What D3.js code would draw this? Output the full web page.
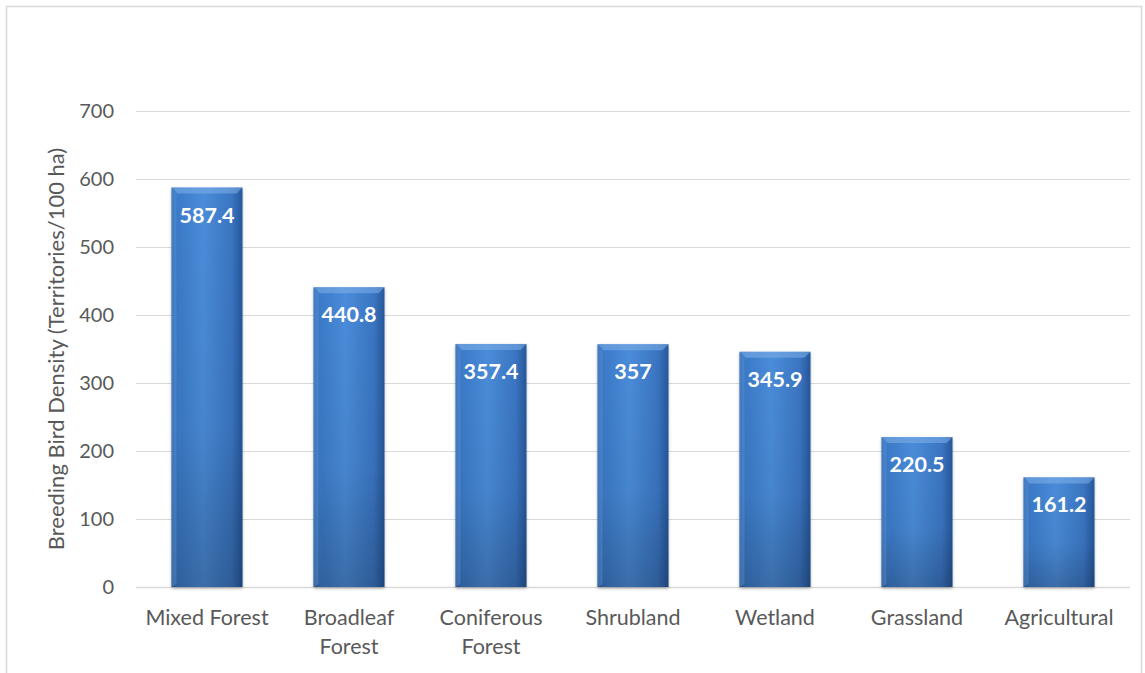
<!DOCTYPE html>
<html><head><meta charset="utf-8">
<script src="https://cdn.jsdelivr.net/npm/d3@7"></script>
<style>html,body{margin:0;padding:0;background:#fff;}svg{display:block;font-family:Lato,"Open Sans",sans-serif;}</style>
</head><body>
<svg id="c" width="1145" height="673"></svg>
<script>
const categories = ["Mixed Forest","Broadleaf Forest","Coniferous Forest","Shrubland","Wetland","Grassland","Agricultural"];
const categoryLines = [["Mixed Forest"],["Broadleaf","Forest"],["Coniferous","Forest"],["Shrubland"],["Wetland"],["Grassland"],["Agricultural"]];
const values = [587.4,440.8,357.4,357,345.9,220.5,161.2];
const valueLabels = ["587.4","440.8","357.4","357","345.9","220.5","161.2"];
const yTicks = [0,100,200,300,400,500,600,700];
const yTitle = "Breeding Bird Density (Territories/100 ha)";

const svg = d3.select("#c");
const m = {left:136, right:1130, top:111, bottom:587};
const x = d3.scaleBand().domain(categories).range([m.left, m.right]).paddingInner(0.5).paddingOuter(0.25);
const y = d3.scaleLinear().domain([0,700]).range([m.bottom, m.top]);

// chart border
svg.append("rect").attr("x",6.5).attr("y",6.5).attr("width",1135).attr("height",680)
  .attr("fill","#fff").attr("stroke","#d9d9d9").attr("stroke-width",1.5);

const defs = svg.append("defs");
const gh = defs.append("linearGradient").attr("id","gh").attr("x1","0").attr("x2","1").attr("y1","0").attr("y2","0");
[[0,"#2f65ad"],[0.08,"#3b7ac8"],[0.45,"#4a8cd9"],[0.85,"#3a75c2"],[1,"#26579a"]].forEach(s=>gh.append("stop").attr("offset",s[0]).attr("stop-color",s[1]));
const gv = defs.append("linearGradient").attr("id","gv").attr("x1","0").attr("x2","0").attr("y1","0").attr("y2","1");
[[0,"#000",0],[0.6,"#000",0.05],[1,"#000",0.22]].forEach(s=>gv.append("stop").attr("offset",s[0]).attr("stop-color",s[1]).attr("stop-opacity",s[2]));
const sh = defs.append("filter").attr("id","sh").attr("x","-20%").attr("y","-5%").attr("width","140%").attr("height","115%");
sh.append("feDropShadow").attr("dx",0).attr("dy",1.5).attr("stdDeviation",1.5).attr("flood-color","#000").attr("flood-opacity",0.3);

// gridlines
svg.append("g").selectAll("line").data(yTicks).join("line")
  .attr("x1",m.left).attr("x2",m.right).attr("y1",d=>y(d)+0.5).attr("y2",d=>y(d)+0.5)
  .attr("stroke","#d9d9d9").attr("stroke-width",d=>d===0?1.5:1.2);

// y axis labels
const yAxis = d3.axisLeft(y).tickValues(yTicks).tickSize(0).tickPadding(0);
const ya = svg.append("g").attr("transform",`translate(${m.left-22},0)`).call(yAxis);
ya.select(".domain").remove();
ya.selectAll("text").attr("fill","#595959").style("font-size","20px").style("font-family","Lato,'Open Sans',sans-serif");

// y title
svg.append("text").attr("transform",`translate(64,${(m.top+m.bottom)/2+0}) rotate(-90)`)
  .attr("text-anchor","middle").attr("fill","#595959").style("font-size","22px").text(yTitle);

// bars
const bars = svg.append("g").selectAll("g").data(categories).join("g");
bars.append("rect").attr("x",d=>x(d)).attr("y",(d,i)=>y(values[i])).attr("width",x.bandwidth())
  .attr("height",(d,i)=>y(0)-y(values[i])).attr("fill","url(#gh)").attr("filter","url(#sh)");
bars.append("rect").attr("x",d=>x(d)).attr("y",(d,i)=>y(values[i])).attr("width",x.bandwidth())
  .attr("height",(d,i)=>y(0)-y(values[i])).attr("fill","url(#gv)");
// top bevel
bars.append("path").attr("d",(d,i)=>{const x0=x(d),x1=x0+x.bandwidth(),t=y(values[i]),b=6;
  return `M${x0},${t}L${x1},${t}L${x1-b},${t+b}L${x0+b},${t+b}Z`;}).attr("fill","#7fb0ea").attr("opacity",0.55);
bars.append("path").attr("d",(d,i)=>{const x0=x(d),x1=x0+x.bandwidth(),t=y(values[i]),H=y(0)-t,b=5;
  return `M${x0},${t}L${x0+b},${t+6}L${x0+b},${t+H-3}L${x0},${t+H}Z`;}).attr("fill","#6aa0e0").attr("opacity",0.35);

// value labels
bars.append("text").attr("x",d=>x(d)+x.bandwidth()/2).attr("y",(d,i)=>y(values[i])+35)
  .attr("text-anchor","middle").attr("fill","#fff").style("font-size","21.5px").style("font-weight","bold")
  .text((d,i)=>valueLabels[i]);

// x labels
const xl = svg.append("g").selectAll("text").data(categories).join("text")
  .attr("x",d=>x(d)+x.bandwidth()/2).attr("y",625).attr("text-anchor","middle")
  .attr("fill","#595959").style("font-size","21.5px");
xl.selectAll("tspan").data((d,i)=>categoryLines[i]).join("tspan")
  .attr("x",function(){return this.parentNode.getAttribute("x");}).attr("dy",(d,j)=>j===0?0:29).text(d=>d);
</script>
</body></html>
